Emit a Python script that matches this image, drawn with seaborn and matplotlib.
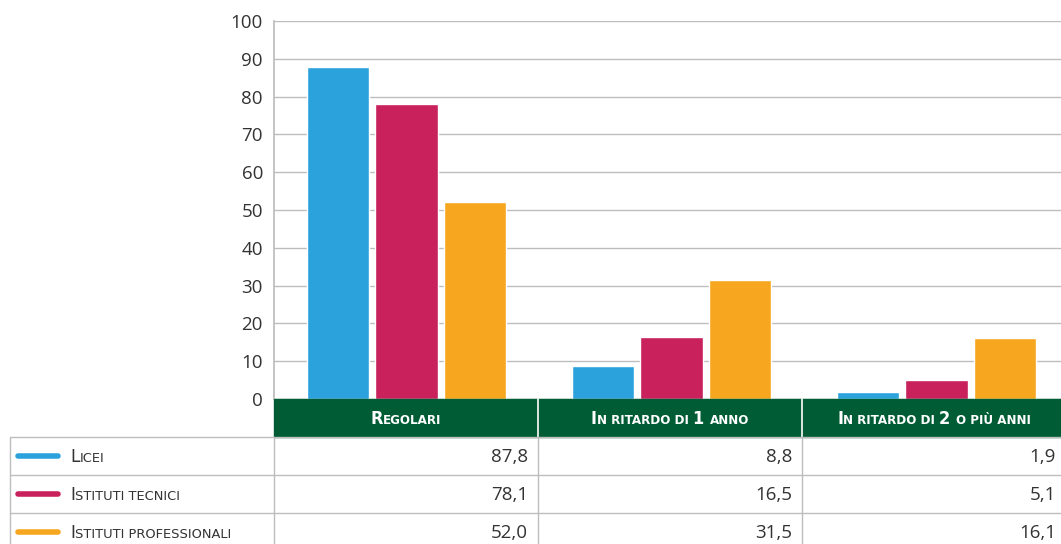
import pandas as pd
import matplotlib
matplotlib.use("Agg")
import matplotlib.pyplot as plt
import seaborn as sns
from matplotlib.patches import Rectangle
from matplotlib.offsetbox import TextArea, HPacker, AnnotationBbox

# dati
categorie = ["Regolari", "In ritardo di 1 anno", "In ritardo di 2 o più anni"]
scuole = ["Licei", "Istituti tecnici", "Istituti professionali"]
licei = [87.8, 8.8, 1.9]
tecnici = [78.1, 16.5, 5.1]
professionali = [52.0, 31.5, 16.1]
colori = ["#2ca2dd", "#c8215c", "#f6a61f"]
verde = "#005c35"
grigio = "#bdbdbd"
testo = "#333333"

valori = [licei, tecnici, professionali]
df = pd.DataFrame([
    {"categoria": c, "scuola": s, "valore": v[i]}
    for s, v in zip(scuole, valori)
    for i, c in enumerate(categorie)
])

sns.set_theme(style="white")
plt.rcParams["font.family"] = ["Open Sans", "DejaVu Sans"]

W, H = 1061, 544
fig = plt.figure(figsize=(W / 100, H / 100), dpi=100)

# area del grafico (leggermente oltre il bordo destro, come nell'originale)
x0 = 274
y_top, y_zero = 21, 399
ax = fig.add_axes([x0 / W, 1 - y_zero / H, 3 * 265 / W, (y_zero - y_top) / H])
sns.barplot(data=df, x="categoria", y="valore", hue="scuola", palette=colori,
            hue_order=scuole, order=categorie, width=0.78, gap=0.1,
            saturation=1, legend=False, ax=ax, zorder=3)
ax.set_xlim(-0.5, 2.5)
ax.set_ylim(0, 100)
ax.set_yticks(range(0, 101, 10))
ax.set_xticks([])
ax.set_xlabel("")
ax.set_ylabel("")
ax.grid(axis="y", color=grigio, linewidth=1, zorder=0)
for s in ["top", "right", "bottom"]:
    ax.spines[s].set_visible(False)
ax.spines["left"].set_color(grigio)
ax.tick_params(axis="y", length=0, pad=8, labelsize=13.5, labelcolor=testo)


def maiuscoletto(txt, big, small, **kw):
    """Testo in maiuscoletto composto con HPacker"""
    runs = []
    for ch in txt:
        size = small if ch.islower() else big
        if runs and (runs[-1][1] == size or ch == " "):
            runs[-1][0] += ch.upper()
        else:
            runs.append([ch.upper(), size])
    parts = [TextArea(t, textprops=dict(fontsize=sz, **kw)) for t, sz in runs]
    return HPacker(children=parts, align="baseline", pad=0, sep=0)


# tabella sotto il grafico
px = 264.0  # pixel per colonna
tab = fig.add_axes([x0 / W, 0, 3 * px / W, (H - y_zero) / H])
tab.set_xlim(-0.5, 2.5)
tab.set_ylim(H - y_zero, 0)
tab.axis("off")

head_h, row_h = 38, 38
tab.add_patch(Rectangle((-0.5, 0), 3, head_h, color=verde, clip_on=False))
for i, c in enumerate(categorie):
    if i > 0:
        tab.plot([i - 0.5, i - 0.5], [0, head_h], color="white", lw=1.2, clip_on=False)
    box = maiuscoletto(c, 13, 9.5, color="white", fontweight="bold",
                       family="DejaVu Sans", fontstretch="condensed")
    tab.add_artist(AnnotationBbox(box, (i, head_h / 2 + 1), frameon=False,
                                  box_alignment=(0.5, 0.5), annotation_clip=False))

left = -0.5 - 264 / px
for r in range(4):
    y = head_h + r * row_h
    tab.plot([left, 2.6], [y, y], color=grigio, lw=1, clip_on=False)
for xv in [left, -0.5, 0.5, 1.5]:
    tab.plot([xv, xv], [head_h, H], color=grigio, lw=1, clip_on=False)

for r, (s, v, col) in enumerate(zip(scuole, valori, colori)):
    yc = head_h + r * row_h + row_h / 2
    tab.plot([left + 8 / px, left + 48 / px], [yc, yc], color=col, lw=4,
             solid_capstyle="round", clip_on=False)
    box = maiuscoletto(s, 12.3, 9.4, color=testo, family="DejaVu Sans")
    tab.add_artist(AnnotationBbox(box, (left + 60 / px, yc + 1), frameon=False,
                                  box_alignment=(0, 0.5), annotation_clip=False))
    for i, val in enumerate(v):
        tab.text(i + 0.5 - 10 / px, yc + 1, f"{val:.1f}".replace(".", ","),
                 ha="right", va="center", fontsize=13.5, color=testo, clip_on=False)

fig.savefig("out.png", dpi=100)
